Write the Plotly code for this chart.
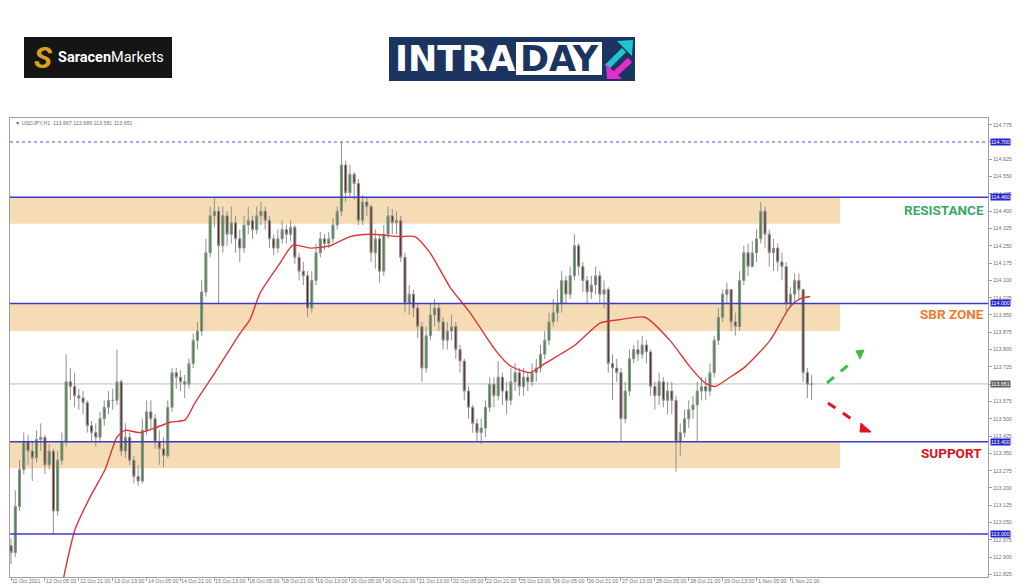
import plotly.graph_objects as go

# ---------------- data (USDJPY, 2-hour bars) ----------------
first_open = 112.95
closes = [
 112.92,113.12,113.28,113.40,113.36,113.33,113.41,113.42,113.30,113.36,
 113.10,113.32,113.40,113.66,113.64,113.60,113.59,113.57,113.47,113.44,
 113.42,113.50,113.55,113.58,113.58,113.66,113.36,113.42,113.32,113.25,
 113.23,113.45,113.53,113.50,113.40,113.37,113.34,113.55,113.70,113.68,
 113.66,113.65,113.74,113.84,113.88,114.05,114.22,114.38,114.40,114.25,
 114.38,114.30,114.35,114.28,114.24,114.34,114.36,114.32,114.38,114.40,
 114.36,114.28,114.24,114.28,114.32,114.30,114.33,114.20,114.14,114.12,
 113.98,114.10,114.22,114.28,114.26,114.28,114.34,114.40,114.60,114.48,
 114.56,114.52,114.36,114.44,114.42,114.22,114.28,114.14,114.30,114.38,
 114.35,114.36,114.20,114.00,114.04,113.98,113.90,113.72,113.86,113.95,
 113.98,113.92,113.84,113.88,113.90,113.80,113.75,113.62,113.55,113.48,
 113.44,113.46,113.55,113.65,113.60,113.68,113.62,113.58,113.66,113.70,
 113.64,113.68,113.66,113.70,113.72,113.78,113.84,113.92,113.96,114.00,
 114.10,114.04,114.12,114.25,114.16,114.10,114.05,114.08,114.12,114.04,
 114.06,113.74,113.72,113.70,113.50,113.62,113.76,113.80,113.78,113.82,
 113.79,113.64,113.60,113.66,113.58,113.62,113.58,113.40,113.44,113.50,
 113.54,113.56,113.62,113.64,113.62,113.70,113.84,113.94,114.04,114.06,
 113.92,113.90,114.10,114.22,114.16,114.22,114.28,114.40,114.30,114.22,
 114.24,114.18,114.16,114.00,114.04,114.10,114.06,113.70,113.65,113.651]
highs = [
 112.98,113.19,113.32,113.44,113.43,113.40,113.45,113.48,113.43,113.39,
 113.37,113.36,113.44,113.78,113.72,113.70,113.63,113.62,113.58,113.49,
 113.48,113.53,113.58,113.62,113.63,113.80,113.67,113.48,113.44,113.34,
 113.30,113.50,113.58,113.58,113.52,113.45,113.42,113.58,113.72,113.72,
 113.71,113.69,113.76,113.87,113.92,114.10,114.28,114.42,114.46,114.42,
 114.42,114.40,114.42,114.38,114.32,114.38,114.42,114.38,114.42,114.44,
 114.42,114.38,114.30,114.32,114.36,114.34,114.36,114.34,114.22,114.18,
 114.14,114.14,114.26,114.31,114.30,114.31,114.37,114.42,114.70,114.62,
 114.60,114.57,114.54,114.47,114.46,114.43,114.32,114.30,114.34,114.42,
 114.41,114.40,114.38,114.22,114.08,114.06,114.00,113.92,113.90,114.00,
 114.02,114.00,113.94,113.92,113.95,113.92,113.82,113.76,113.64,113.56,
 113.50,113.50,113.58,113.68,113.68,113.75,113.70,113.66,113.72,113.74,
 113.72,113.72,113.70,113.74,113.76,113.82,113.88,113.96,114.02,114.06,
 114.14,114.12,114.16,114.30,114.26,114.18,114.12,114.12,114.16,114.14,
 114.10,114.07,113.78,113.76,113.72,113.66,113.80,113.82,113.84,113.86,
 113.84,113.80,113.66,113.70,113.68,113.66,113.66,113.60,113.48,113.54,
 113.58,113.60,113.66,113.68,113.68,113.74,113.86,113.98,114.06,114.09,
 114.06,113.96,114.14,114.25,114.26,114.27,114.32,114.44,114.42,114.32,
 114.28,114.26,114.22,114.18,114.07,114.13,114.13,114.06,113.72,113.689]
lows = [
 112.87,112.90,113.10,113.26,113.30,113.23,113.31,113.36,113.26,113.28,
 113.00,113.08,113.30,113.38,113.58,113.55,113.54,113.52,113.44,113.40,
 113.38,113.40,113.47,113.52,113.54,113.56,113.34,113.33,113.30,113.22,
 113.21,113.22,113.43,113.45,113.37,113.30,113.29,113.33,113.53,113.63,
 113.62,113.59,113.63,113.72,113.80,113.86,114.03,114.20,114.33,114.00,
 114.22,114.25,114.26,114.22,114.18,114.22,114.30,114.28,114.30,114.34,
 114.32,114.24,114.21,114.22,114.26,114.26,114.27,114.17,114.10,114.08,
 113.94,113.96,114.08,114.20,114.23,114.24,114.26,114.32,114.38,114.44,
 114.46,114.45,114.34,114.34,114.38,114.18,114.15,114.09,114.12,114.28,
 114.30,114.30,114.18,113.96,113.95,113.94,113.85,113.66,113.70,113.84,
 113.90,113.88,113.80,113.80,113.84,113.76,113.70,113.58,113.50,113.44,
 113.40,113.39,113.42,113.53,113.55,113.58,113.56,113.52,113.56,113.62,
 113.60,113.60,113.62,113.64,113.66,113.70,113.76,113.82,113.90,113.92,
 113.96,114.00,114.02,114.10,114.12,114.05,114.00,114.02,114.04,114.00,
 113.98,113.70,113.58,113.66,113.40,113.48,113.60,113.74,113.75,113.76,
 113.74,113.60,113.54,113.56,113.55,113.52,113.52,113.27,113.34,113.42,
 113.46,113.50,113.40,113.58,113.58,113.60,113.68,113.82,113.92,114.00,
 113.88,113.86,113.88,114.08,114.12,114.16,114.18,114.26,114.24,114.16,
 114.14,114.14,114.10,113.96,113.98,114.00,114.02,113.66,113.59,113.581]

# moving average (red), read at trading-hour positions
ma_hour = [22.2,24.6,30.2,37.3,44.4,50.0,53.8,60.9,68.0,75.1,82.2,86.9,96.3,108.1,112.8,117.6,
           127.0,133.1,141.2,150.6,160.1,169.5,183.7,190.7,197.8,207.3,216.7,228.5,235.6,245.0,
           252.1,266.3,278.1,287.5,299.3,311.1,320.6,327.7,332.4,339.5,346.6,358.4,367.8,372.5,377.2]
ma_val = [112.65,112.80,113.02,113.16,113.28,113.42,113.45,113.44,113.46,113.485,113.495,113.57,
          113.70,113.87,113.93,114.045,114.175,114.253,114.24,114.25,114.29,114.30,114.29,114.29,
          114.22,114.07,113.96,113.80,113.73,113.70,113.74,113.82,113.915,113.93,113.94,113.84,
          113.725,113.655,113.64,113.68,113.725,113.84,113.985,114.02,114.03]

x_tick_hours = [0,16,32,48,64,80,96,112,128,144,160,176,192,208,224,240,256,272,288,304,320,336,352,368]
x_tick_labels = ["11 Oct 2021","12 Oct 05:00","12 Oct 21:00","13 Oct 13:00","14 Oct 05:00","14 Oct 21:00",
                 "15 Oct 13:00","18 Oct 05:00","18 Oct 21:00","19 Oct 13:00","20 Oct 05:00","20 Oct 21:00",
                 "21 Oct 13:00","22 Oct 05:00","22 Oct 21:00","25 Oct 13:00","26 Oct 05:00","26 Oct 21:00",
                 "27 Oct 13:00","28 Oct 05:00","28 Oct 21:00","29 Oct 13:00","1 Nov 05:00","1 Nov 21:00"]
y_ticks = [112.825,112.900,112.975,113.050,113.125,113.200,113.275,113.350,113.425,113.500,113.575,
           113.650,113.725,113.800,113.875,113.950,114.025,114.100,114.175,114.250,114.325,114.400,
           114.475,114.550,114.625,114.700,114.775]
y_ticks_hidden = [113.650, 114.700]   # covered by the price boxes in the original

resistance = (114.345, 114.460)
sbr_zone = (113.880, 114.000)
support = (113.285, 113.400)
level_lines = [114.460, 114.000, 113.400, 113.000]
high_level = 114.700
last_price = 113.651

# ---------------- figure ----------------
opens = [first_open] + closes[:-1]
bar_hours = [2 * i for i in range(len(closes))]

OFF = 8                      # page body margin of the html page
W, H = 1024 - OFF, 587 - OFF
L, R, T, B = 10, 988, 118, 577          # plot area in reference pixels
def PX(px): return (px - L) / (R - L)
def PY(py): return (B - py) / (B - T)

fig = go.Figure()
fig.add_trace(go.Candlestick(
    x=bar_hours, open=opens, high=highs, low=lows, close=closes,
    increasing=dict(fillcolor="#3a8a3a", line=dict(color="#909090", width=1)),
    decreasing=dict(fillcolor="#55241a", line=dict(color="#909090", width=1)),
    whiskerwidth=0, showlegend=False, hoverinfo="skip"))
fig.add_trace(go.Scatter(x=ma_hour, y=ma_val, mode="lines",
                         line=dict(color="#e03535", width=1.4, shape="spline", smoothing=0.6),
                         showlegend=False, hoverinfo="skip"))

shapes = []
band_col = "rgba(245,218,176,0.95)"
for lo, hi in (resistance, sbr_zone, support):
    shapes.append(dict(type="rect", xref="paper", yref="y", x0=0, x1=PX(840), y0=lo, y1=hi,
                       fillcolor=band_col, line=dict(width=0), layer="below"))
for lv in level_lines:
    shapes.append(dict(type="line", xref="paper", yref="y", x0=0, x1=1, y0=lv, y1=lv,
                       line=dict(color="#3a3acd", width=1.5)))
shapes.append(dict(type="line", xref="paper", yref="y", x0=0, x1=1, y0=high_level, y1=high_level,
                   line=dict(color="#5050d0", width=1, dash="dot")))
shapes.append(dict(type="line", xref="paper", yref="y", x0=0, x1=1, y0=last_price, y1=last_price,
                   line=dict(color="#b8bebe", width=1), layer="below"))

# dashed arrows
def dashed_arrow(x0, y0, x1, y1, head, col):
    shapes.append(dict(type="line", xref="paper", yref="paper", x0=PX(x0), y0=PY(y0), x1=PX(x1), y1=PY(y1),
                       line=dict(color=col, width=3, dash="dash")))
    p = "M " + " L ".join(f"{PX(a):.5f},{PY(b):.5f}" for a, b in head) + " Z"
    shapes.append(dict(type="path", xref="paper", yref="paper", path=p, fillcolor=col, line=dict(color=col, width=1)))
dashed_arrow(827, 383, 853, 361, [(856, 351), (864, 350), (860, 359)], "#3cbf3c")
dashed_arrow(828, 403, 856, 422, [(861, 423), (871, 432), (860, 432)], "#e3141e")

# logos
shapes.append(dict(type="rect", xref="paper", yref="paper", x0=PX(24), x1=PX(172), y0=PY(78), y1=PY(37),
                   fillcolor="#151515", line=dict(width=0)))
shapes.append(dict(type="rect", xref="paper", yref="paper", x0=PX(389), x1=PX(635), y0=PY(81), y1=PY(37),
                   fillcolor="#1b3560", line=dict(width=0)))
shapes.append(dict(type="rect", xref="paper", yref="paper", x0=PX(516), x1=PX(602), y0=PY(75), y1=PY(42),
                   fillcolor="#ffffff", line=dict(width=0)))
shapes.append(dict(type="line", xref="paper", yref="paper", x0=PX(607), y0=PY(67), x1=PX(624), y1=PY(50),
                   line=dict(color="#1ec6d2", width=6)))
shapes.append(dict(type="path", xref="paper", yref="paper",
                   path=f"M {PX(617)},{PY(41)} L {PX(633)},{PY(40)} L {PX(632)},{PY(56)} Z",
                   fillcolor="#1ec6d2", line=dict(width=0)))
shapes.append(dict(type="line", xref="paper", yref="paper", x0=PX(630), y0=PY(60), x1=PX(615), y1=PY(74),
                   line=dict(color="#e52ccf", width=6)))
shapes.append(dict(type="path", xref="paper", yref="paper",
                   path=f"M {PX(606)},{PY(64)} L {PX(607)},{PY(79)} L {PX(622)},{PY(79)} Z",
                   fillcolor="#e52ccf", line=dict(width=0)))

small = dict(size=5.3, color="#707070", family="Liberation Sans")
ann = []
for hv, tx in zip(x_tick_hours, x_tick_labels):
    ann.append(dict(x=hv, xref="x", y=PY(581), yref="paper", text=tx, showarrow=False, xanchor="left",
                    yanchor="middle", xshift=-1, font=small))
for lv in [high_level] + level_lines:
    ann.append(dict(x=1, xref="paper", y=lv, yref="y", text=f"{lv:.3f}", showarrow=False, xanchor="left",
                    xshift=2, bgcolor="#2424cf", borderpad=0,
                    font=dict(size=5.3, color="#ffffff", family="Liberation Sans")))
ann.append(dict(x=1, xref="paper", y=last_price, yref="y", text=f"{last_price:.3f}", showarrow=False,
                xanchor="left", xshift=2, bgcolor="#606060", borderpad=0,
                font=dict(size=5.3, color="#ffffff", family="Liberation Sans")))
ann.append(dict(x=PX(13), xref="paper", y=PY(123), yref="paper", xanchor="left", yanchor="middle",
                text="\u25bc USDJPY,H1  113.667 113.689 113.581 113.651", showarrow=False, font=small))
ann.append(dict(x=PX(986), xref="paper", y=PY(210), yref="paper", xanchor="right", yanchor="middle",
                text="<b>RESISTANCE</b>", showarrow=False, font=dict(size=13.5, color="#3aa86c", family="Roboto")))
ann.append(dict(x=PX(986), xref="paper", y=PY(314), yref="paper", xanchor="right", yanchor="middle",
                text="<b>SBR ZONE</b>", showarrow=False, font=dict(size=13.5, color="#f07a2e", family="Roboto")))
ann.append(dict(x=PX(984), xref="paper", y=PY(453), yref="paper", xanchor="right", yanchor="middle",
                text="<b>SUPPORT</b>", showarrow=False, font=dict(size=13.5, color="#dd1020", family="Roboto")))
# logo texts
ann.append(dict(x=PX(43), xref="paper", y=PY(57), yref="paper", xanchor="center", yanchor="middle",
                text="<b><i>S</i></b>", showarrow=False, font=dict(size=30, color="#d8a21e", family="Roboto")))
ann.append(dict(x=PX(56), xref="paper", y=PY(57), yref="paper", xanchor="left", yanchor="middle",
                text="<b>Saracen</b>Markets", showarrow=False, font=dict(size=14.5, color="#ffffff", family="Roboto")))
ann.append(dict(x=PX(393), xref="paper", y=PY(59), yref="paper", xanchor="left", yanchor="middle",
                text="<b>INTRA</b>", showarrow=False, font=dict(size=35, color="#ffffff", family="DejaVu Sans")))
ann.append(dict(x=PX(518), xref="paper", y=PY(59), yref="paper", xanchor="left", yanchor="middle",
                text="<b>DAY</b>", showarrow=False, font=dict(size=35, color="#1b3560", family="DejaVu Sans")))

fig.update_layout(
    width=W, height=H, margin=dict(l=L - OFF, r=1024 - R, t=T - OFF, b=587 - B, pad=0),
    paper_bgcolor="#ffffff", plot_bgcolor="#ffffff",
    shapes=shapes, annotations=ann, showlegend=False, hovermode=False,
    xaxis=dict(range=[-0.5, 461.3], showgrid=False, zeroline=False, rangeslider=dict(visible=False),
               showline=True, linecolor="#a0a0a0", linewidth=1, mirror=True,
               tickvals=x_tick_hours, showticklabels=False, ticks="outside", ticklen=3, tickcolor="#a0a0a0"),
    yaxis=dict(range=[112.814, 114.804], side="right", showgrid=False, zeroline=False,
               showline=True, linecolor="#a0a0a0", linewidth=1, mirror=True,
               tickvals=y_ticks, ticktext=["" if v in y_ticks_hidden else f"{v:.3f}" for v in y_ticks],
               ticks="outside", ticklen=3, tickcolor="#a0a0a0", tickfont=small),
)
fig.write_html("out.html")
